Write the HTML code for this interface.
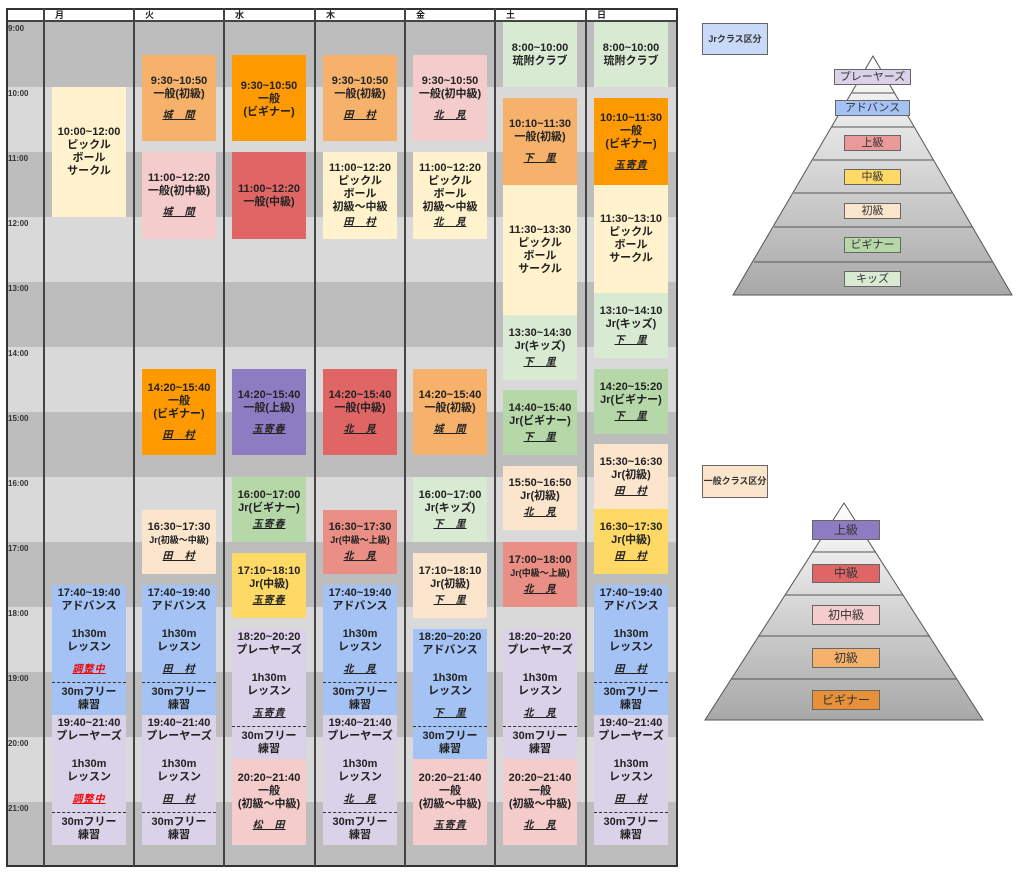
<!DOCTYPE html>
<html><head><meta charset="utf-8"><style>
*{margin:0;padding:0;box-sizing:border-box}
body{width:1024px;height:872px;background:#fff;position:relative;font-family:"Liberation Sans","Noto Sans CJK JP",sans-serif;overflow:hidden}
.a{position:absolute}
.row{position:absolute;left:6px;width:671px;height:65px}
.d{background:#bdbdbd}.l{background:#d9d9d9}
.vl{position:absolute;top:8px;height:858px;width:2px;background:#444}
.hd{position:absolute;top:8px;height:14px;font-size:9px;font-weight:bold;line-height:14px;padding-left:10px;color:#222}
.tm{position:absolute;left:8px;font-size:8px;font-weight:bold;color:#333}
.ev{position:absolute;width:74px;display:flex;flex-direction:column;justify-content:center;align-items:center;text-align:center;font-weight:bold;font-size:11px;line-height:13px;color:#222;white-space:nowrap}
.n{font-style:italic;text-decoration:underline;font-size:10px;margin-top:8px;letter-spacing:1px}
.r{color:#e00}
.s{font-size:9px}
.lg{justify-content:flex-start}
.top{height:97px;width:100%;display:flex;flex-direction:column;align-items:center;padding-top:2px}
.bot{flex:1;width:100%;border-top:1px dashed #333;display:flex;flex-direction:column;justify-content:center;align-items:center}
.g{height:15px}.g2{height:9px}
.lbl{position:absolute;border:1px solid #666;font-size:11px;color:#333;text-align:center;font-family:"Liberation Sans","Noto Sans CJK JP",sans-serif}
</style></head><body>
<div class="row d" style="top:22px"></div>
<div class="row l" style="top:87px"></div>
<div class="row d" style="top:152px"></div>
<div class="row l" style="top:217px"></div>
<div class="row d" style="top:282px"></div>
<div class="row l" style="top:347px"></div>
<div class="row d" style="top:412px"></div>
<div class="row l" style="top:477px"></div>
<div class="row d" style="top:542px"></div>
<div class="row l" style="top:607px"></div>
<div class="row d" style="top:672px"></div>
<div class="row l" style="top:737px"></div>
<div class="row d" style="top:802px"></div>
<div class="a" style="left:6px;top:8px;width:671px;height:14px;background:#fff;border-bottom:2px solid #444"></div>
<div class="a" style="left:6px;top:8px;width:672px;height:859px;border:2px solid #333"></div>
<div class="vl" style="left:43px"></div><div class="vl" style="left:133px"></div><div class="vl" style="left:223px"></div><div class="vl" style="left:314px"></div><div class="vl" style="left:404px"></div><div class="vl" style="left:494px"></div><div class="vl" style="left:585px"></div>
<div class="hd" style="left:45px">月</div><div class="hd" style="left:135px">火</div><div class="hd" style="left:225px">水</div><div class="hd" style="left:316px">木</div><div class="hd" style="left:406px">金</div><div class="hd" style="left:496px">土</div><div class="hd" style="left:587px">日</div>
<div class="tm" style="top:24px">9:00</div><div class="tm" style="top:89px">10:00</div><div class="tm" style="top:154px">11:00</div><div class="tm" style="top:219px">12:00</div><div class="tm" style="top:284px">13:00</div><div class="tm" style="top:349px">14:00</div><div class="tm" style="top:414px">15:00</div><div class="tm" style="top:479px">16:00</div><div class="tm" style="top:544px">17:00</div><div class="tm" style="top:609px">18:00</div><div class="tm" style="top:674px">19:00</div><div class="tm" style="top:739px">20:00</div><div class="tm" style="top:804px">21:00</div>

<!-- 月 -->
<div class="ev" style="left:52px;top:87px;height:130px;background:#fff2cc">10:00~12:00<br>ピックル<br>ボール<br>サークル</div>
<div class="ev lg" style="left:52px;top:585px;height:130px;background:#a4c2f4"><div class="top">17:40~19:40<br>アドバンス<div class="g"></div>1h30m<br>レッスン<div class="g2"></div><span class="n r" style="margin:0">調整中</span></div><div class="bot">30mフリー<br>練習</div></div>
<div class="ev lg" style="left:52px;top:715px;height:130px;background:#d9d2e9"><div class="top">19:40~21:40<br>プレーヤーズ<div class="g"></div>1h30m<br>レッスン<div class="g2"></div><span class="n r" style="margin:0">調整中</span></div><div class="bot">30mフリー<br>練習</div></div>

<!-- 火 -->
<div class="ev" style="left:142px;top:55px;height:86px;background:#f6b26b">9:30~10:50<br>一般(初級)<span class="n">城　間</span></div>
<div class="ev" style="left:142px;top:152px;height:87px;background:#f4cccc">11:00~12:20<br>一般(初中級)<span class="n">城　間</span></div>
<div class="ev" style="left:142px;top:369px;height:86px;background:#ff9900">14:20~15:40<br>一般<br>(ビギナー)<span class="n">田　村</span></div>
<div class="ev" style="left:142px;top:510px;height:64px;background:#fce5cd">16:30~17:30<br><span class="s">Jr(初級～中級)</span><span class="n" style="margin-top:3px">田　村</span></div>
<div class="ev lg" style="left:142px;top:585px;height:130px;background:#a4c2f4"><div class="top">17:40~19:40<br>アドバンス<div class="g"></div>1h30m<br>レッスン<div class="g2"></div><span class="n" style="margin:0">田　村</span></div><div class="bot">30mフリー<br>練習</div></div>
<div class="ev lg" style="left:142px;top:715px;height:130px;background:#d9d2e9"><div class="top">19:40~21:40<br>プレーヤーズ<div class="g"></div>1h30m<br>レッスン<div class="g2"></div><span class="n" style="margin:0">田　村</span></div><div class="bot">30mフリー<br>練習</div></div>

<!-- 水 -->
<div class="ev" style="left:232px;top:55px;height:86px;background:#ff9900;justify-content:flex-start;padding-top:25px">9:30~10:50<br>一般<br>(ビギナー)</div>
<div class="ev" style="left:232px;top:152px;height:87px;background:#e06666">11:00~12:20<br>一般(中級)</div>
<div class="ev" style="left:232px;top:369px;height:86px;background:#8e7cc3">14:20~15:40<br>一般(上級)<span class="n">玉寄春</span></div>
<div class="ev" style="left:232px;top:477px;height:65px;background:#b6d7a8">16:00~17:00<br>Jr(ビギナー)<span class="n" style="margin-top:3px">玉寄春</span></div>
<div class="ev" style="left:232px;top:553px;height:65px;background:#ffd966">17:10~18:10<br>Jr(中級)<span class="n" style="margin-top:3px">玉寄春</span></div>
<div class="ev lg" style="left:232px;top:629px;height:130px;background:#d9d2e9"><div class="top">18:20~20:20<br>プレーヤーズ<div class="g"></div>1h30m<br>レッスン<div class="g2"></div><span class="n" style="margin:0">玉寄貴</span></div><div class="bot">30mフリー<br>練習</div></div>
<div class="ev" style="left:232px;top:759px;height:86px;background:#f4cccc">20:20~21:40<br>一般<br>(初級～中級)<span class="n">松　田</span></div>

<!-- 木 -->
<div class="ev" style="left:323px;top:55px;height:86px;background:#f6b26b">9:30~10:50<br>一般(初級)<span class="n">田　村</span></div>
<div class="ev" style="left:323px;top:152px;height:87px;background:#fff2cc">11:00~12:20<br>ピックル<br>ボール<br>初級～中級<span class="n" style="margin-top:2px">田　村</span></div>
<div class="ev" style="left:323px;top:369px;height:86px;background:#e06666">14:20~15:40<br>一般(中級)<span class="n">北　見</span></div>
<div class="ev" style="left:323px;top:510px;height:64px;background:#ea8f85">16:30~17:30<br><span class="s">Jr(中級～上級)</span><span class="n" style="margin-top:3px">北　見</span></div>
<div class="ev lg" style="left:323px;top:585px;height:130px;background:#a4c2f4"><div class="top">17:40~19:40<br>アドバンス<div class="g"></div>1h30m<br>レッスン<div class="g2"></div><span class="n" style="margin:0">北　見</span></div><div class="bot">30mフリー<br>練習</div></div>
<div class="ev lg" style="left:323px;top:715px;height:130px;background:#d9d2e9"><div class="top">19:40~21:40<br>プレーヤーズ<div class="g"></div>1h30m<br>レッスン<div class="g2"></div><span class="n" style="margin:0">北　見</span></div><div class="bot">30mフリー<br>練習</div></div>

<!-- 金 -->
<div class="ev" style="left:413px;top:55px;height:86px;background:#f4cccc">9:30~10:50<br>一般(初中級)<span class="n">北　見</span></div>
<div class="ev" style="left:413px;top:152px;height:87px;background:#fff2cc">11:00~12:20<br>ピックル<br>ボール<br>初級～中級<span class="n" style="margin-top:2px">北　見</span></div>
<div class="ev" style="left:413px;top:369px;height:86px;background:#f6b26b">14:20~15:40<br>一般(初級)<span class="n">城　間</span></div>
<div class="ev" style="left:413px;top:477px;height:65px;background:#d9ead3">16:00~17:00<br>Jr(キッズ)<span class="n" style="margin-top:3px">下　里</span></div>
<div class="ev" style="left:413px;top:553px;height:65px;background:#fce5cd">17:10~18:10<br>Jr(初級)<span class="n" style="margin-top:3px">下　里</span></div>
<div class="ev lg" style="left:413px;top:629px;height:130px;background:#a4c2f4"><div class="top">18:20~20:20<br>アドバンス<div class="g"></div>1h30m<br>レッスン<div class="g2"></div><span class="n" style="margin:0">下　里</span></div><div class="bot">30mフリー<br>練習</div></div>
<div class="ev" style="left:413px;top:759px;height:86px;background:#f4cccc">20:20~21:40<br>一般<br>(初級～中級)<span class="n">玉寄貴</span></div>

<!-- 土 -->
<div class="ev" style="left:503px;top:22px;height:65px;background:#d9ead3">8:00~10:00<br>琉附クラブ</div>
<div class="ev" style="left:503px;top:98px;height:87px;background:#f6b26b">10:10~11:30<br>一般(初級)<span class="n">下　里</span></div>
<div class="ev" style="left:503px;top:185px;height:130px;background:#fff2cc">11:30~13:30<br>ピックル<br>ボール<br>サークル</div>
<div class="ev" style="left:503px;top:315px;height:65px;background:#d9ead3">13:30~14:30<br>Jr(キッズ)<span class="n" style="margin-top:3px">下　里</span></div>
<div class="ev" style="left:503px;top:390px;height:65px;background:#b6d7a8">14:40~15:40<br>Jr(ビギナー)<span class="n" style="margin-top:3px">下　里</span></div>
<div class="ev" style="left:503px;top:466px;height:64px;background:#fce5cd">15:50~16:50<br>Jr(初級)<span class="n" style="margin-top:3px">北　見</span></div>
<div class="ev" style="left:503px;top:542px;height:65px;background:#ea8f85">17:00~18:00<br><span class="s">Jr(中級～上級)</span><span class="n" style="margin-top:3px">北　見</span></div>
<div class="ev lg" style="left:503px;top:629px;height:130px;background:#d9d2e9"><div class="top">18:20~20:20<br>プレーヤーズ<div class="g"></div>1h30m<br>レッスン<div class="g2"></div><span class="n" style="margin:0">北　見</span></div><div class="bot">30mフリー<br>練習</div></div>
<div class="ev" style="left:503px;top:759px;height:86px;background:#f4cccc">20:20~21:40<br>一般<br>(初級～中級)<span class="n">北　見</span></div>

<!-- 日 -->
<div class="ev" style="left:594px;top:22px;height:65px;background:#d9ead3">8:00~10:00<br>琉附クラブ</div>
<div class="ev" style="left:594px;top:98px;height:87px;background:#ff9900">10:10~11:30<br>一般<br>(ビギナー)<span class="n">玉寄貴</span></div>
<div class="ev" style="left:594px;top:185px;height:108px;background:#fff2cc">11:30~13:10<br>ピックル<br>ボール<br>サークル</div>
<div class="ev" style="left:594px;top:293px;height:65px;background:#d9ead3">13:10~14:10<br>Jr(キッズ)<span class="n" style="margin-top:3px">下　里</span></div>
<div class="ev" style="left:594px;top:369px;height:65px;background:#b6d7a8">14:20~15:20<br>Jr(ビギナー)<span class="n" style="margin-top:3px">下　里</span></div>
<div class="ev" style="left:594px;top:444px;height:65px;background:#fce5cd">15:30~16:30<br>Jr(初級)<span class="n" style="margin-top:3px">田　村</span></div>
<div class="ev" style="left:594px;top:509px;height:65px;background:#ffd966">16:30~17:30<br>Jr(中級)<span class="n" style="margin-top:3px">田　村</span></div>
<div class="ev lg" style="left:594px;top:585px;height:130px;background:#a4c2f4"><div class="top">17:40~19:40<br>アドバンス<div class="g"></div>1h30m<br>レッスン<div class="g2"></div><span class="n" style="margin:0">田　村</span></div><div class="bot">30mフリー<br>練習</div></div>
<div class="ev lg" style="left:594px;top:715px;height:130px;background:#d9d2e9"><div class="top">19:40~21:40<br>プレーヤーズ<div class="g"></div>1h30m<br>レッスン<div class="g2"></div><span class="n" style="margin:0">田　村</span></div><div class="bot">30mフリー<br>練習</div></div>

<!-- pyramids -->
<svg class="a" style="left:0;top:0" width="1024" height="872">
<defs>
<linearGradient id="pg" x1="0" y1="0" x2="0" y2="1"><stop offset="0" stop-color="#ffffff"/><stop offset="1" stop-color="#a8a8a8"/></linearGradient>
</defs>
<polygon points="873,56 733,295 1012,295" fill="url(#pg)" stroke="#555" stroke-width="1"/>
<g stroke="#555" stroke-width="1">
<line x1="852" y1="93" x2="894" y2="93"/>
<line x1="832" y1="127" x2="914" y2="127"/>
<line x1="813" y1="160" x2="933" y2="160"/>
<line x1="794" y1="193" x2="952" y2="193"/>
<line x1="774" y1="227" x2="972" y2="227"/>
<line x1="754" y1="262" x2="992" y2="262"/>
</g>
<polygon points="844,503 705,720 983,720" fill="url(#pg)" stroke="#555" stroke-width="1"/>
<g stroke="#555" stroke-width="1">
<line x1="812" y1="552" x2="876" y2="552"/>
<line x1="785" y1="595" x2="903" y2="595"/>
<line x1="758" y1="636" x2="930" y2="636"/>
<line x1="731" y1="679" x2="957" y2="679"/>
</g>
</svg>
<div class="lbl" style="left:702px;top:23px;width:66px;height:32px;background:#c9daf8;font-weight:bold;font-size:9px;line-height:30px">Jrクラス区分</div>
<div class="lbl" style="left:834px;top:69px;width:77px;height:16px;background:#d9d2e9;line-height:14px">プレーヤーズ</div>
<div class="lbl" style="left:835px;top:100px;width:75px;height:16px;background:#a4c2f4;line-height:14px">アドバンス</div>
<div class="lbl" style="left:844px;top:135px;width:57px;height:16px;background:#ea9999;line-height:14px">上級</div>
<div class="lbl" style="left:844px;top:169px;width:57px;height:16px;background:#ffd966;line-height:14px">中級</div>
<div class="lbl" style="left:844px;top:203px;width:57px;height:16px;background:#fce5cd;line-height:14px">初級</div>
<div class="lbl" style="left:844px;top:237px;width:57px;height:16px;background:#b6d7a8;line-height:14px">ビギナー</div>
<div class="lbl" style="left:844px;top:271px;width:57px;height:16px;background:#d9ead3;line-height:14px">キッズ</div>
<div class="lbl" style="left:702px;top:465px;width:66px;height:33px;background:#fce5cd;font-weight:bold;font-size:9px;line-height:31px">一般クラス区分</div>
<div class="lbl" style="left:812px;top:520px;width:68px;height:20px;background:#8e7cc3;line-height:18px;font-size:12px">上級</div>
<div class="lbl" style="left:812px;top:564px;width:68px;height:19px;background:#e06666;line-height:17px;font-size:12px">中級</div>
<div class="lbl" style="left:812px;top:605px;width:68px;height:20px;background:#f4cccc;line-height:18px;font-size:12px">初中級</div>
<div class="lbl" style="left:812px;top:648px;width:68px;height:20px;background:#f6b26b;line-height:18px;font-size:12px">初級</div>
<div class="lbl" style="left:812px;top:690px;width:68px;height:20px;background:#e69138;line-height:18px;font-size:12px">ビギナー</div>
</body></html>
